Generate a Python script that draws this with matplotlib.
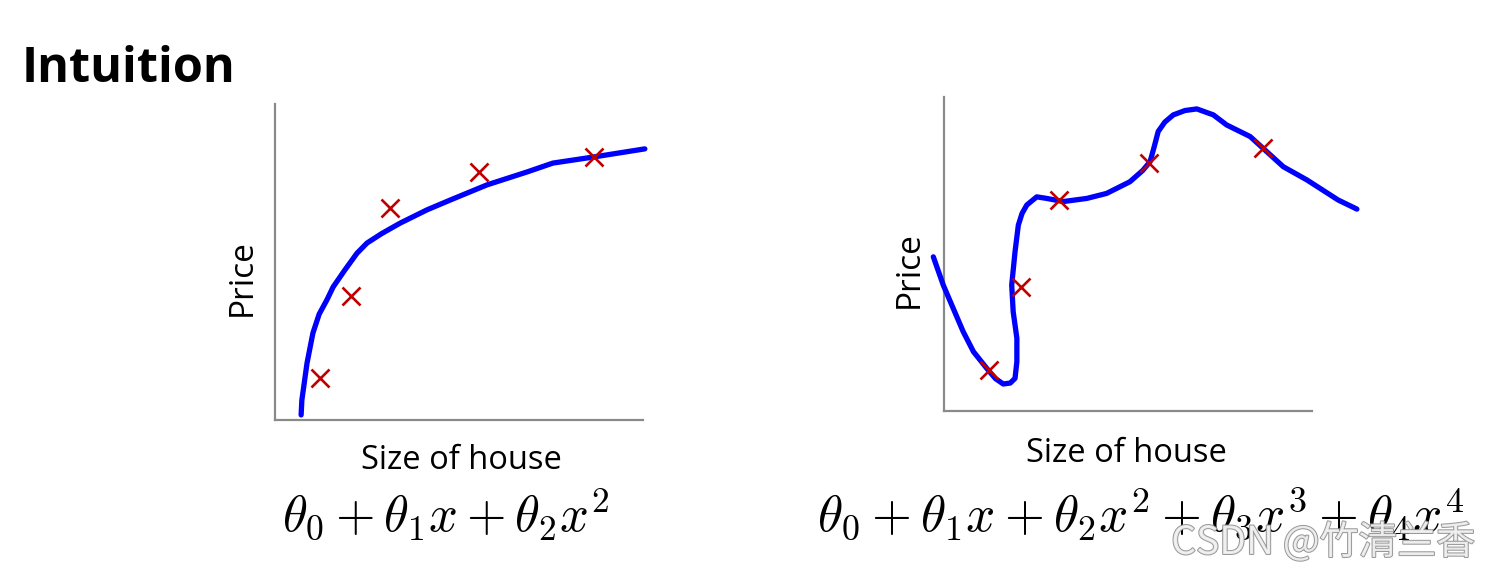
from __future__ import annotations

import matplotlib

matplotlib.use("Agg")

import matplotlib.patheffects as pe
import matplotlib.pyplot as plt

W, H = 1491, 569

# training examples (size, price) in 0..100 units of each panel
left_pts_x = [12.2, 20.7, 31.3, 55.4, 86.7]
left_pts_y = [13.3, 39.2, 67.1, 78.5, 83.2]
right_pts_x = [12.2, 20.8, 31.3, 55.6, 86.8]
right_pts_y = [13.1, 39.6, 67.2, 78.9, 83.7]

# hand-drawn quadratic fit (left)
left_curve_x = [7.1, 7.3, 8.7, 10.3, 12.0, 14.1, 15.8, 19.0, 22.3, 25.0,
                29.0, 34.0, 41.3, 47.6, 57.6, 68.5, 75.5, 86.4, 100.5]
left_curve_y = [1.6, 6.3, 18.0, 27.5, 33.5, 38.0, 42.1, 47.5, 52.8, 56.0,
                59.0, 62.3, 66.5, 69.6, 74.4, 78.5, 81.3, 83.2, 85.8]

# hand-drawn quartic fit (right), overfitting the same points
right_curve_x = [-2.9, -0.2, 2.5, 5.2, 8.0, 11.6, 14.0, 16.1, 18.0, 19.3, 19.8,
                 19.8, 18.8, 18.4, 19.3, 20.2, 21.2, 22.5, 25.2, 27.9, 32.4,
                 38.8, 44.2, 50.5, 54.0, 56.0, 57.2, 58.2, 60.0, 62.3, 65.5,
                 68.7, 73.2, 76.8, 83.2, 87.7, 92.2, 98.6, 107.1, 112.2]
right_curve_y = [49.1, 40.1, 32.7, 25.3, 18.9, 13.6, 10.3, 8.6, 8.9, 10.4, 15.7,
                 23.2, 31.6, 40.1, 50.7, 59.2, 62.9, 65.6, 68.2, 67.7, 66.7,
                 67.7, 69.3, 73.0, 76.6, 79.4, 84.5, 89.0, 92.0, 94.3, 95.7,
                 96.2, 94.3, 91.1, 87.4, 82.6, 77.8, 73.6, 67.2, 64.3]

TITLE = "Intuition"
XLABEL = "Size of house"
YLABEL = "Price"
LEFT_FORMULA = r"$\theta_0 + \theta_1 x + \theta_2 x^2$"
RIGHT_FORMULA = r"$\theta_0 + \theta_1 x + \theta_2 x^2 + \theta_3 x^3 + \theta_4 x^4$"
WATERMARK = "CSDN @竹清兰香"

FONT = ["Open Sans", "DejaVu Sans"]
CURVE_COLOR = "#0000ff"
MARK_COLOR = "#c00000"
SPINE_COLOR = "#8a8a8a"


def px(x: float, y: float) -> tuple[float, float]:
    return x / W, 1 - y / H


def make_axes(fig, left, top, right, bottom):
    ax = fig.add_axes([left / W, 1 - bottom / H, (right - left) / W, (bottom - top) / H])
    ax.set_xlim(0, 100)
    ax.set_ylim(0, 100)
    for side in ("top", "right"):
        ax.spines[side].set_visible(False)
    for side in ("left", "bottom"):
        ax.spines[side].set_color(SPINE_COLOR)
        ax.spines[side].set_linewidth(1.6)
    ax.set_xticks([])
    ax.set_yticks([])
    ax.patch.set_alpha(0)
    return ax


def draw_panel(ax, cx, cy, sx, sy):
    ax.plot(cx, cy, color=CURVE_COLOR, lw=3.8, solid_capstyle="round",
            solid_joinstyle="round", clip_on=False, zorder=3)
    ax.plot(sx, sy, ls="none", marker="x", ms=12.5, mew=1.9,
            color=MARK_COLOR, clip_on=False, zorder=4)


def main() -> None:
    plt.rcParams["mathtext.fontset"] = "cm"
    fig = plt.figure(figsize=(W / 100, H / 100), dpi=100)

    fig.text(*px(22, 82), TITLE, fontsize=35, fontweight="bold",
             family=FONT, ha="left", va="baseline")

    ax1 = make_axes(fig, 275, 104, 643, 420)
    draw_panel(ax1, left_curve_x, left_curve_y, left_pts_x, left_pts_y)
    ax2 = make_axes(fig, 944, 97, 1312, 411)
    draw_panel(ax2, right_curve_x, right_curve_y, right_pts_x, right_pts_y)

    fig.text(*px(242, 278), YLABEL, rotation=90, fontsize=24, family=FONT,
             ha="center", va="center")
    fig.text(*px(909, 270), YLABEL, rotation=90, fontsize=24, family=FONT,
             ha="center", va="center")
    fig.text(*px(461, 469), XLABEL, fontsize=23.5, family=FONT,
             ha="center", va="baseline")
    fig.text(*px(1126, 462), XLABEL, fontsize=23.5, family=FONT,
             ha="center", va="baseline")

    fig.text(*px(446, 531), LEFT_FORMULA, fontsize=36.5, ha="center", va="baseline")
    fig.text(*px(1141, 531), RIGHT_FORMULA, fontsize=37, ha="center", va="baseline")

    fig.text(*px(1323, 543), WATERMARK, fontsize=28,
             family=["Noto Sans CJK SC", "DejaVu Sans"], color="#f2f2f2",
             ha="center", va="center", alpha=0.9,
             path_effects=[pe.withStroke(linewidth=1.4, foreground="#8c8c8c")])

    fig.savefig("out.png", dpi=100, facecolor="white")
    plt.close(fig)


if __name__ == "__main__":
    main()
